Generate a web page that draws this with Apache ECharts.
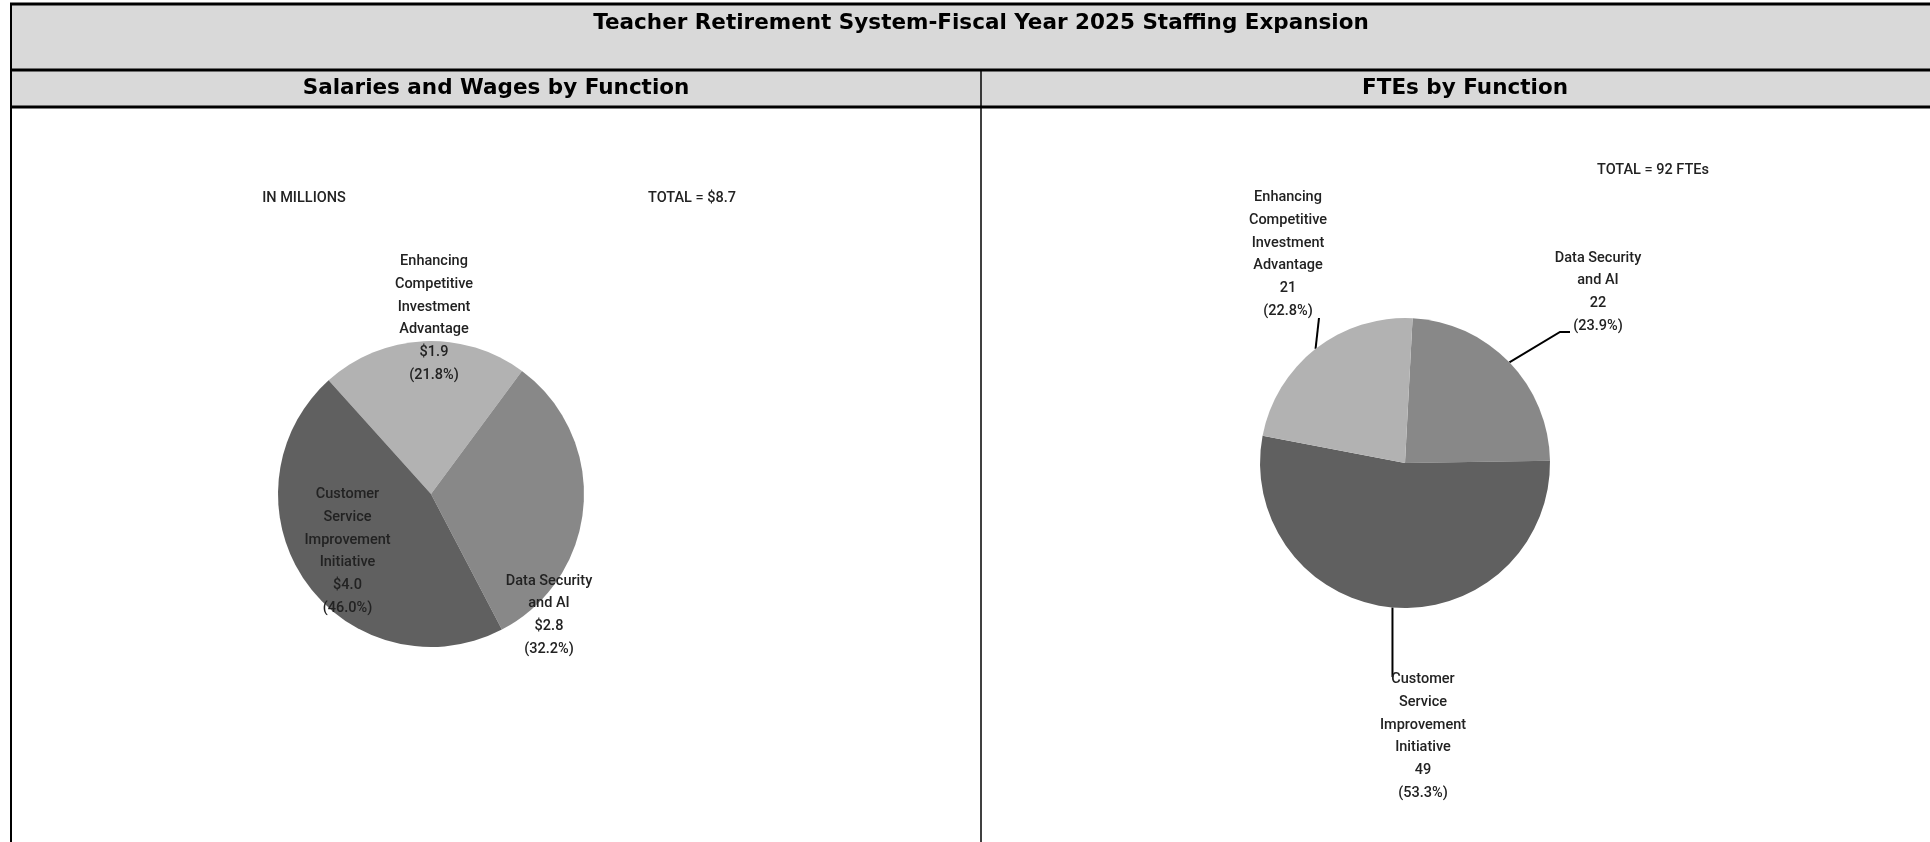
<!DOCTYPE html>
<html><head><meta charset="utf-8">
<script src="https://cdn.jsdelivr.net/npm/echarts@6/dist/echarts.min.js"></script>
<style>html,body{margin:0;padding:0;background:#fff;overflow:hidden}#c{width:1930px;height:842px}</style>
</head><body><div id="c"></div>
<script>
// ---------- data ----------
const mainTitle = 'Teacher Retirement System-Fiscal Year 2025 Staffing Expansion';
const leftTitle = 'Salaries and Wages by Function';
const rightTitle = 'FTEs by Function';
const unitNote = 'IN MILLIONS';

const salaryCategories = ['Enhancing\nCompetitive\nInvestment\nAdvantage', 'Data Security\nand AI', 'Customer\nService\nImprovement\nInitiative'];
const salaryValues = [1.9, 2.8, 4.0];          // $ millions
const salaryPercents = [21.8, 32.2, 46.0];
const salaryTotal = 8.7;

const fteCategories = ['Data Security\nand AI', 'Customer\nService\nImprovement\nInitiative', 'Enhancing\nCompetitive\nInvestment\nAdvantage'];
const fteValues = [22, 49, 21];
const ftePercents = [23.9, 53.3, 22.8];
const fteTotal = 92;

// ---------- styling ----------
const shade = {
  'Enhancing': '#b2b2b2',
  'Data': '#888888',
  'Customer': '#606060'
};
const colorFor = n => shade[n.split(/[\s\n]/)[0]];
const labelFont = "Roboto,'Liberation Sans',sans-serif";
const headFont = "'DejaVu Sans',sans-serif";
const labelSize = 14.5;
const labelColor = '#222';

const c1 = [431, 494], r1 = 153;
const c2 = [1405, 463], r2 = 145;

// label offsets relative to pie centres
const off1 = [[3, -175.5], [118, 121], [-83.5, 57.5]];
const off2 = [[193, -171], [18, 273.5], [-117, -208.5]];
// leader line (elbow, end) offsets for pie 2
const line2 = [[[155, -131], [165, -131]], [null, [0, 214]], [[-86, -145], [-86, -145]]];

const chart = echarts.init(document.getElementById('c'), null, {renderer: 'canvas'});

const W = 1930, H = 842;
const gray = '#d9d9d9';
chart.setOption({
  animation: false,
  backgroundColor: '#fff',
  graphic: [
    {type: 'rect', shape: {x: 11, y: 4, width: W, height: 103}, style: {fill: gray}, silent: true, z: -10},
    {type: 'line', shape: {x1: 10, y1: 4, x2: W, y2: 4}, style: {stroke: '#000', lineWidth: 3}, z: 10},
    {type: 'line', shape: {x1: 10, y1: 70, x2: W, y2: 70}, style: {stroke: '#000', lineWidth: 3}, z: 10},
    {type: 'line', shape: {x1: 10, y1: 107, x2: W, y2: 107}, style: {stroke: '#000', lineWidth: 3}, z: 10},
    {type: 'line', shape: {x1: 11, y1: 3, x2: 11, y2: H}, style: {stroke: '#000', lineWidth: 2}, z: 10},
    {type: 'line', shape: {x1: 981, y1: 70, x2: 981, y2: H}, style: {stroke: '#000', lineWidth: 1.5}, z: 10},
    {type: 'text', x: 981, y: 23, style: {text: mainTitle, font: 'bold 21.5px ' + headFont, fill: '#000', align: 'center', verticalAlign: 'middle'}},
    {type: 'text', x: 496, y: 88, style: {text: leftTitle, font: 'bold 21.5px ' + headFont, fill: '#000', align: 'center', verticalAlign: 'middle'}},
    {type: 'text', x: 1465, y: 88, style: {text: rightTitle, font: 'bold 21.5px ' + headFont, fill: '#000', align: 'center', verticalAlign: 'middle'}},
    {type: 'text', x: 304, y: 198, style: {text: unitNote, font: '500 ' + labelSize + 'px ' + labelFont, fill: labelColor, align: 'center', verticalAlign: 'middle'}},
    {type: 'text', x: 692, y: 198, style: {text: 'TOTAL = $' + salaryTotal.toFixed(1), font: '500 ' + labelSize + 'px ' + labelFont, fill: labelColor, align: 'center', verticalAlign: 'middle'}},
    {type: 'text', x: 1653, y: 170, style: {text: 'TOTAL = ' + fteTotal + ' FTEs', font: '500 ' + labelSize + 'px ' + labelFont, fill: labelColor, align: 'center', verticalAlign: 'middle'}}
  ],
  series: [
    {
      type: 'pie', silent: true, center: c1, radius: r1, startAngle: 132, clockwise: true,
      avoidLabelOverlap: false,
      data: salaryCategories.map((n, i) => ({value: salaryPercents[i], name: n, itemStyle: {color: colorFor(n)}})),
      label: {
        show: true, position: 'inside', color: labelColor, fontFamily: labelFont, fontWeight: 500, fontSize: labelSize, lineHeight: 22.7,
        formatter: p => p.name + '\n$' + salaryValues[p.dataIndex].toFixed(1) + '\n(' + salaryPercents[p.dataIndex].toFixed(1) + '%)'
      },
      labelLine: {show: false},
      labelLayout: p => ({x: c1[0] + off1[p.dataIndex][0], y: c1[1] + off1[p.dataIndex][1], align: 'center', verticalAlign: 'middle'})
    },
    {
      type: 'pie', silent: true, center: c2, radius: r2, startAngle: 87, clockwise: true,
      avoidLabelOverlap: false,
      data: fteCategories.map((n, i) => ({value: fteValues[i], name: n, itemStyle: {color: colorFor(n)}})),
      label: {
        show: true, position: 'outside', color: labelColor, fontFamily: labelFont, fontWeight: 500, fontSize: labelSize, lineHeight: 22.7,
        formatter: p => p.name + '\n' + fteValues[p.dataIndex] + '\n(' + ftePercents[p.dataIndex].toFixed(1) + '%)'
      },
      labelLine: {show: true, length: 20, length2: 10, lineStyle: {color: '#000', width: 2}},
      labelLayout: p => {
        const i = p.dataIndex;
        const start = p.labelLinePoints ? p.labelLinePoints[0] : [c2[0], c2[1]];
        const L = line2[i];
        const end = [c2[0] + L[1][0], c2[1] + L[1][1]];
        if (i === 1) end[0] = start[0];
        const mid = L[0] ? [c2[0] + L[0][0], c2[1] + L[0][1]] : end;
        return {
          x: c2[0] + off2[i][0], y: c2[1] + off2[i][1], align: 'center', verticalAlign: 'middle',
          labelLinePoints: [start, mid, end]
        };
      }
    }
  ]
});
</script>
</body></html>
